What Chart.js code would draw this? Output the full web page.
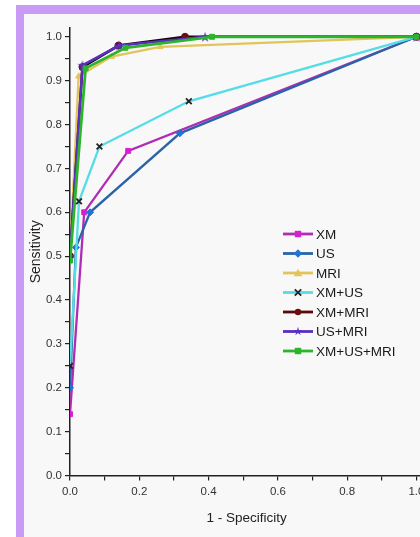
<!DOCTYPE html>
<html>
<head>
<meta charset="utf-8">
<script src="https://cdn.jsdelivr.net/npm/chart.js@4.4.1/dist/chart.umd.min.js"></script>
<style>
  html, body { margin: 0; padding: 0; background: #fff; overflow: hidden; width: 420px; height: 537px; }
  #frame { position: absolute; left: 16px; top: 5px; width: 520px; height: 600px;
           border-left: 8px solid #c89cf6; border-top: 9px solid #c89cf6; background: #f8f8f8; }
  #roc { position: absolute; left: 0; top: 0; }
</style>
</head>
<body>
<div id="frame"></div>
<canvas id="roc" width="470" height="537"></canvas>
<script>
// series (1 - specificity, sensitivity)
const names = ['XM', 'US', 'MRI', 'XM+US', 'XM+MRI', 'US+MRI', 'XM+US+MRI'];
const xmX = [0, 0.041, 0.168, 1];
const xmY = [0.14, 0.60, 0.74, 1];
const usX = [0, 0.017, 0.058, 0.317, 1];
const usY = [0.20, 0.52, 0.60, 0.78, 1];
const mriX = [0, 0.025, 0.12, 0.26, 1];
const mriY = [0.50, 0.91, 0.955, 0.977, 1];
const xmusX = [0, 0.026, 0.085, 0.343, 1];
const xmusY = [0.25, 0.625, 0.75, 0.853, 1];
const xmmriX = [0, 0.036, 0.14, 0.332, 1];
const xmmriY = [0.50, 0.931, 0.98, 1.0, 1];
const usmriX = [0, 0.036, 0.142, 0.39, 1];
const usmriY = [0.50, 0.935, 0.98, 1.0, 1];
const allX = [0, 0.045, 0.16, 0.41, 1];
const allY = [0.49, 0.928, 0.975, 1.0, 1];

// ticks
const xTickValues = [0, 0.1, 0.2, 0.3, 0.4, 0.5, 0.6, 0.7, 0.8, 0.9, 1.0];
const xTickLabels = ['0.0', '', '0.2', '', '0.4', '', '0.6', '', '0.8', '', '1.0'];
const yTickValues = [0, 0.05, 0.1, 0.15, 0.2, 0.25, 0.3, 0.35, 0.4, 0.45, 0.5,
                     0.55, 0.6, 0.65, 0.7, 0.75, 0.8, 0.85, 0.9, 0.95, 1.0];
const yTickLabels = ['0.0', '', '0.1', '', '0.2', '', '0.3', '', '0.4', '', '0.5',
                     '', '0.6', '', '0.7', '', '0.8', '', '0.9', '', '1.0'];

const lineColors  = ['#b02cb4', '#2a64a8', '#e3c45a', '#55dde6', '#1a0505', '#5a2fbf', '#2cb52c'];
const pointColors = ['#d81fd0', '#1f74d6', '#e3c45a', '#222222', '#6a0d0d', '#5a2fbf', '#2cb52c'];
const pointStyles = ['rect', 'rectRot', 'triangle', 'crossRot', 'circle', 'star', 'rect'];
const lineWidths  = [2.3, 2.3, 2.3, 2.3, 2.5, 2.5, 2.8];

const xs = [xmX, usX, mriX, xmusX, xmmriX, usmriX, allX];
const ys = [xmY, usY, mriY, xmusY, xmmriY, usmriY, allY];

const font = 'Liberation Sans, Arial, sans-serif';

function pts(xv, yv) {
    return xv.map((x, i) => ({ x: x, y: yv[i] }));
}

// little marker drawer (legend + filled star image)
function marker(ctx, style, x, y, r, color) {
    ctx.save();
    ctx.fillStyle = color;
    ctx.strokeStyle = color;
    ctx.lineWidth = 1.8;
    ctx.beginPath();
    if (style === 'rect') {
        ctx.rect(x - r, y - r, 2 * r, 2 * r); ctx.fill();
    } else if (style === 'rectRot') {
        ctx.moveTo(x, y - r - 1); ctx.lineTo(x + r + 1, y); ctx.lineTo(x, y + r + 1); ctx.lineTo(x - r - 1, y);
        ctx.closePath(); ctx.fill();
    } else if (style === 'triangle') {
        ctx.moveTo(x, y - r - 1); ctx.lineTo(x + r + 1, y + r); ctx.lineTo(x - r - 1, y + r);
        ctx.closePath(); ctx.fill();
    } else if (style === 'crossRot') {
        ctx.moveTo(x - r, y - r); ctx.lineTo(x + r, y + r);
        ctx.moveTo(x + r, y - r); ctx.lineTo(x - r, y + r); ctx.stroke();
    } else if (style === 'circle') {
        ctx.arc(x, y, r, 0, Math.PI * 2); ctx.fill();
    } else if (style === 'star') {
        for (let k = 0; k < 10; k++) {
            const a = -Math.PI / 2 + k * Math.PI / 5;
            const rr = k % 2 === 0 ? r + 1.5 : r * 0.5;
            const px = x + rr * Math.cos(a), py = y + rr * Math.sin(a);
            if (k === 0) ctx.moveTo(px, py); else ctx.lineTo(px, py);
        }
        ctx.closePath(); ctx.fill();
    }
    ctx.restore();
}

const starImg = document.createElement('canvas');
starImg.width = 12; starImg.height = 12;
marker(starImg.getContext('2d'), 'star', 6, 6.5, 4, '#5a2fbf');

const datasets = names.map((n, i) => ({
    label: n,
    data: pts(xs[i], ys[i]),
    borderColor: lineColors[i],
    backgroundColor: pointColors[i],
    pointBorderColor: pointColors[i],
    pointBackgroundColor: pointColors[i],
    pointStyle: pointStyles[i] === 'star' ? starImg : pointStyles[i],
    pointRadius: pointStyles[i] === 'crossRot' ? 4 : 3.5,
    pointBorderWidth: pointStyles[i] === 'crossRot' ? 1.8 : 1,
    borderWidth: lineWidths[i],
    showLine: true,
    fill: false,
    tension: 0,
    order: i === 6 ? 0 : 7 - i
}));

const legendPlugin = {
    id: 'insideLegend',
    afterDraw(chart) {
        const ctx = chart.ctx;
        const x0 = 283, x1 = 313, yStart = 234, gap = 19.5;
        ctx.save();
        names.forEach((n, i) => {
            const y = yStart + i * gap;
            ctx.strokeStyle = lineColors[i] === '#1a0505' ? '#5a0a0a' : lineColors[i];
            ctx.lineWidth = 2.8;
            ctx.beginPath();
            ctx.moveTo(x0, y);
            ctx.lineTo(x1, y);
            ctx.stroke();
            marker(ctx, pointStyles[i], (x0 + x1) / 2, y, 3.2, pointColors[i]);
            ctx.fillStyle = '#1a1a1a';
            ctx.font = '13.5px ' + font;
            ctx.textBaseline = 'middle';
            ctx.textAlign = 'left';
            ctx.fillText(n, 316, y + 1);
        });
        ctx.restore();
    }
};

const config = {
    type: 'scatter',
    data: { datasets: datasets },
    options: {
        responsive: false,
        animation: false,
        layout: { padding: { left: 0, top: 28, right: 46.6, bottom: 0 } },
        plugins: {
            legend: { display: false },
            tooltip: { enabled: false }
        },
        scales: {
            x: {
                type: 'linear',
                min: 0,
                max: 1.02,
                afterBuildTicks: (scale) => { scale.ticks = xTickValues.map(v => ({ value: v })); },
                afterFit: (scale) => { scale.height = 61.4; },
                ticks: {
                    autoSkip: false,
                    maxRotation: 0,
                    padding: 4,
                    color: '#333',
                    font: { family: font, size: 11.5 },
                    callback: (v, i) => xTickLabels[i]
                },
                grid: { display: true, drawOnChartArea: false, drawTicks: true, tickLength: 5, color: '#222', lineWidth: 1.2 },
                border: { display: true, color: '#222', width: 1.5 },
                title: {
                    display: true,
                    text: '1 - Specificity',
                    color: '#222',
                    font: { family: font, size: 13.5 },
                    padding: { top: 0, bottom: 11 }
                }
            },
            y: {
                type: 'linear',
                min: 0,
                max: 1.02,
                afterBuildTicks: (scale) => { scale.ticks = yTickValues.map(v => ({ value: v })); },
                afterFit: (scale) => { scale.width = 70; },
                ticks: {
                    autoSkip: false,
                    padding: 3,
                    color: '#333',
                    font: { family: font, size: 11.5 },
                    callback: (v, i) => yTickLabels[i]
                },
                grid: { display: true, drawOnChartArea: false, drawTicks: true, tickLength: 5, color: '#222', lineWidth: 1.2 },
                border: { display: true, color: '#222', width: 1.5 },
                title: {
                    display: true,
                    text: 'Sensitivity',
                    color: '#222',
                    font: { family: font, size: 14 },
                    padding: { top: 28, bottom: 0 }
                }
            }
        }
    },
    plugins: [legendPlugin]
};

const roc = new Chart(document.getElementById('roc'), config);
</script>
</body>
</html>
